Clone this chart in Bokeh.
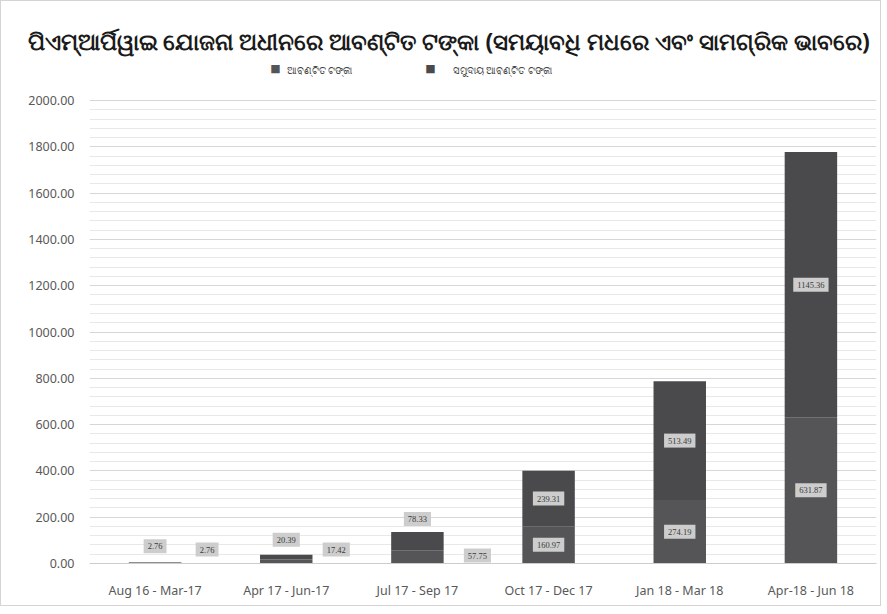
from bokeh.plotting import figure
from bokeh.models import (ColumnDataSource, FactorRange, Range1d, FixedTicker,
                          Label, NumeralTickFormatter)
from bokeh.core.properties import value
from bokeh.embed import file_html
from bokeh.resources import INLINE

# ---- data ----
categories = ["Aug 16 - Mar-17", "Apr 17 - Jun-17", "Jul 17 - Sep 17",
              "Oct 17 - Dec 17", "Jan 18 - Mar 18", "Apr-18 - Jun 18"]
allocated = [2.76, 17.42, 57.75, 160.97, 274.19, 631.87]          # ଆବଣ୍ଟିତ ଟଙ୍କା
cumulative = [2.76, 20.39, 78.33, 239.31, 513.49, 1145.36]       # ସମୁଦାୟ ଆବଣ୍ଟିତ ଟଙ୍କା
series_names = ["ଆବଣ୍ଟିତ ଟଙ୍କା", "ସମୁଦାୟ ଆବଣ୍ଟିତ ଟଙ୍କା"]
title_text = "ପିଏମ୍ଆର୍ପିୱାଇ ଯୋଜନା ଅଧୀନରେ ଆବଣ୍ଟିତ ଟଙ୍କା (ସମୟାବଧି ମଧରେ ଏବଂ ସାମଗ୍ରିକ ଭାବରେ)"
y_max = 2000
y_major_step = 200
y_minor_step = 40

# ---- styles / layout ----
FONT = "Noto Sans"
colors = ["#555557", "#4a4a4c"]
FRAME_W = 787
PLOT_H = 463                     # pixel height of the 0..y_max span
TOP_GAP = 43                     # frame space above y_max (legend lives here)
FRAME_H = PLOT_H + TOP_GAP
# label offsets (screen px) for the small stacks whose labels are moved aside
bot_xoff = [52, 50, 60, 0, 0, 0]
bot_yoff = [-14, -14, -8, 0, 0, 0]
top_yoff = [-16, -15, -13, 0, 0, 0]

src = ColumnDataSource(dict(cat=categories, a=allocated, c=cumulative))

p = figure(x_range=FactorRange(*categories, range_padding=0),
           y_range=Range1d(0, y_max * FRAME_H / PLOT_H),
           frame_width=FRAME_W, frame_height=FRAME_H, output_backend="svg", toolbar_location=None,
           min_border_left=88, min_border_right=4, min_border_bottom=42, min_border_top=56)
p.styles = {"border": "1px solid #d4d4d4"}

rs = p.vbar_stack(["a", "c"], x="cat", width=0.4, color=colors, source=src, line_width=0)

# data labels
n = len(categories)
bot_y = []
top_y = []
for i in range(n):
    if bot_xoff[i] != 0:
        bot_y.append(0.0)
        top_y.append(allocated[i] + cumulative[i])
    else:
        bot_y.append(allocated[i] / 2.0)
        top_y.append(allocated[i] + cumulative[i] / 2.0)
lab_src = ColumnDataSource(dict(
    cat=categories * 2,
    y=bot_y + top_y,
    txt=[f"{v:.2f}" for v in allocated] + [f"{v:.2f}" for v in cumulative],
    xo=bot_xoff + [0] * n,
    yo=bot_yoff + top_yoff,
))
p.text(x="cat", y="y", text="txt", source=lab_src, x_offset="xo", y_offset="yo",
       text_align="center", text_baseline="middle", text_font=value("Liberation Serif"),
       text_font_size="8.5px", text_color="#3a3a3a",
       background_fill_color="#cdcdcd", padding=4)

# axes / grid
major = list(range(0, y_max + 1, y_major_step))
minor = [v for v in range(0, y_max + 1, y_minor_step) if v % y_major_step]
p.yaxis.ticker = FixedTicker(ticks=major, minor_ticks=minor)
p.yaxis.formatter = NumeralTickFormatter(format="0.00")
p.yaxis.axis_line_color = None
p.yaxis.major_tick_line_color = None
p.yaxis.minor_tick_line_color = None
p.yaxis.major_tick_out = 0
p.yaxis.minor_tick_out = 0
p.yaxis.major_label_text_font = FONT
p.yaxis.major_label_text_font_size = "12.5px"
p.yaxis.major_label_text_color = "#595959"
p.yaxis.major_label_standoff = 15

p.xaxis.axis_line_color = "#cccccc"
p.xaxis.major_tick_line_color = None
p.xaxis.minor_tick_line_color = None
p.xaxis.major_tick_out = 0
p.xaxis.major_label_text_font = FONT
p.xaxis.major_label_text_font_size = "12.5px"
p.xaxis.major_label_text_color = "#595959"
p.xaxis.major_label_standoff = 18

p.xgrid.grid_line_color = None
p.ygrid.grid_line_color = "#d6d6d6"
p.ygrid.minor_grid_line_color = "#e8e8e8"
p.outline_line_color = None

# title
p.title.text = title_text
p.title.align = "left"
p.title.offset = -62
p.title.standoff = 2
p.title.text_font = FONT
p.title.text_font_size = "23px"
p.title.text_font_style = "bold"
p.title.text_color = "#1a1a1a"

# manual legend (frame-relative screen units)
leg_sq_x = [186, 341]
leg_tx_x = [197, 363]
for i in range(2):
    p.add_layout(Label(x=leg_sq_x[i], y=FRAME_H - 11, x_units="screen", y_units="screen",
                       text="■", text_align="center", text_baseline="middle",
                       text_font="DejaVu Sans", text_font_size="11px", text_color=colors[i]))
    p.add_layout(Label(x=leg_tx_x[i], y=FRAME_H - 12, x_units="screen", y_units="screen",
                       text=series_names[i], text_align="left", text_baseline="middle",
                       text_font=FONT, text_font_size="10px", text_color="#404040"))

open("out.html", "w").write(file_html(p, INLINE))
